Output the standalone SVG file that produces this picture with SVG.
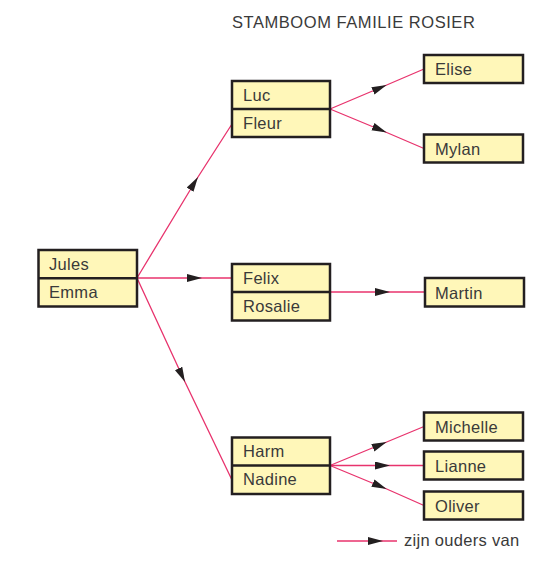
<svg xmlns="http://www.w3.org/2000/svg" width="543" height="561" viewBox="0 0 543 561">
<style>
.box{fill:#FFF7B9;stroke:#231F20;stroke-width:2.5}
.div{stroke:#231F20;stroke-width:2.5}
.t{font-family:"Liberation Sans",Arial,sans-serif;font-size:16.5px;letter-spacing:0.3px;fill:#3a3a3a}
.c{fill:none;stroke:#E8336D;stroke-width:1.3;marker-mid:url(#arr)}
</style>
<defs>
<marker id="arr" markerUnits="userSpaceOnUse" markerWidth="16" markerHeight="10" refX="15" refY="4" orient="auto">
<path d="M0,0 L15,4 L0,8 Z" fill="#231F20"/>
</marker>
</defs>
<rect width="543" height="561" fill="#fff"/>
<text class="t" x="232" y="28" style="letter-spacing:0.55px">STAMBOOM FAMILIE ROSIER</text>
<g id="connectors">
<path class="c" d="M137,278 L198,177 L232,124"/>
<path class="c" d="M137,278 L202,278 L232,278"/>
<path class="c" d="M137,278 L185,382 L232,480"/>
<path class="c" d="M330,109 L386.7,85 L424,69"/>
<path class="c" d="M330,109 L386.7,132.5 L424,148.5"/>
<path class="c" d="M330,292 L390,292 L425,292"/>
<path class="c" d="M330,465.5 L386.7,442 L424,426.5"/>
<path class="c" d="M330,465.5 L390,465.5 L424,465.5"/>
<path class="c" d="M330,465.5 L386.7,489 L424,505.5"/>
</g>
<g id="jules-emma">
<rect class="box" x="38.5" y="250" width="98.5" height="56.5"/>
<line class="div" x1="38.5" y1="278.3" x2="137" y2="278.3"/>
<text class="t" x="49" y="269.5">Jules</text>
<text class="t" x="49" y="297.5">Emma</text>
</g>
<g id="luc-fleur">
<rect class="box" x="232" y="81" width="98" height="56"/>
<line class="div" x1="232" y1="109" x2="330" y2="109"/>
<text class="t" x="243" y="100.5">Luc</text>
<text class="t" x="243" y="128.5">Fleur</text>
</g>
<g id="felix-rosalie">
<rect class="box" x="232" y="264" width="98" height="56.5"/>
<line class="div" x1="232" y1="292" x2="330" y2="292"/>
<text class="t" x="243" y="283.5">Felix</text>
<text class="t" x="243" y="311.5">Rosalie</text>
</g>
<g id="harm-nadine">
<rect class="box" x="232" y="437.5" width="98" height="56.5"/>
<line class="div" x1="232" y1="465.5" x2="330" y2="465.5"/>
<text class="t" x="243" y="457">Harm</text>
<text class="t" x="243" y="485">Nadine</text>
</g>
<g id="elise">
<rect class="box" x="424" y="55" width="99" height="28"/>
<text class="t" x="435" y="75">Elise</text>
</g>
<g id="mylan">
<rect class="box" x="424" y="134.5" width="99" height="28"/>
<text class="t" x="435" y="154.5">Mylan</text>
</g>
<g id="martin">
<rect class="box" x="425" y="278" width="99" height="28.5"/>
<text class="t" x="435" y="298.5">Martin</text>
</g>
<g id="michelle">
<rect class="box" x="424" y="412.5" width="99" height="28"/>
<text class="t" x="435" y="432.5">Michelle</text>
</g>
<g id="lianne">
<rect class="box" x="424" y="451.5" width="99" height="28"/>
<text class="t" x="435" y="471.5">Lianne</text>
</g>
<g id="oliver">
<rect class="box" x="424" y="491.5" width="99" height="28"/>
<text class="t" x="435" y="511.5">Oliver</text>
</g>
<g id="legend">
<path class="c" d="M337,541 L383,541 L397,541"/>
<text class="t" x="404" y="546">zijn ouders van</text>
</g>
</svg>
